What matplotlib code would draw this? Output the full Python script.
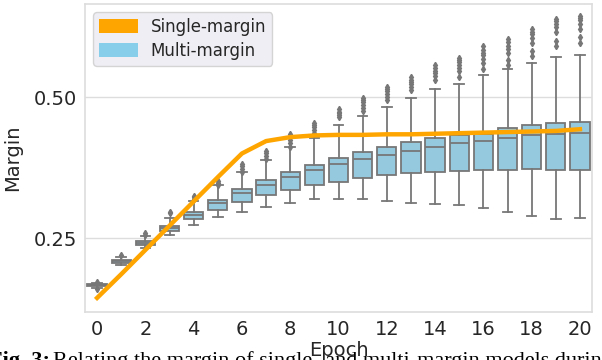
import numpy as np
import matplotlib
matplotlib.use("Agg")
import matplotlib.pyplot as plt
from matplotlib.patches import Patch

epochs = list(range(21))

# orange line: single-margin model
single_margin = [0.144, 0.186, 0.229, 0.272, 0.315, 0.358, 0.400, 0.422, 0.429, 0.432,
                 0.433, 0.433, 0.434, 0.434, 0.435, 0.436, 0.437, 0.438, 0.439, 0.440, 0.443]

# box statistics for multi-margin models
q1 = [0.165, 0.206, 0.238, 0.263, 0.284, 0.300, 0.314, 0.326, 0.336, 0.344,
      0.350, 0.356, 0.361, 0.365, 0.368, 0.369, 0.371, 0.371, 0.372, 0.371, 0.371]
med = [0.167, 0.209, 0.241, 0.268, 0.291, 0.312, 0.330, 0.345, 0.358, 0.370,
       0.381, 0.390, 0.398, 0.405, 0.412, 0.418, 0.423, 0.427, 0.432, 0.435, 0.436]
q3 = [0.168, 0.212, 0.245, 0.272, 0.297, 0.318, 0.337, 0.353, 0.368, 0.380,
      0.392, 0.402, 0.411, 0.420, 0.427, 0.433, 0.435, 0.445, 0.450, 0.454, 0.455]
whis_lo = [0.161, 0.202, 0.232, 0.255, 0.273, 0.288, 0.297, 0.306, 0.313, 0.320,
           0.319, 0.319, 0.315, 0.312, 0.310, 0.309, 0.303, 0.297, 0.290, 0.284, 0.285]
whis_hi = [0.171, 0.216, 0.253, 0.286, 0.316, 0.344, 0.367, 0.389, 0.411, 0.427,
           0.450, 0.466, 0.483, 0.498, 0.515, 0.524, 0.539, 0.550, 0.560, 0.571, 0.575]
fliers = [
    [0.173, 0.159],
    [0.220],
    [0.256, 0.259],
    [0.294, 0.296],
    [0.319, 0.322, 0.325],
    [0.345, 0.348, 0.352],
    [0.368, 0.372, 0.377, 0.382],
    [0.390, 0.395, 0.400, 0.405],
    [0.412, 0.418, 0.424, 0.429, 0.434],
    [0.437, 0.442, 0.447, 0.451, 0.454],
    [0.465, 0.468, 0.471, 0.474, 0.478],
    [0.475, 0.481, 0.486, 0.491, 0.495, 0.498],
    [0.494, 0.500, 0.505, 0.510, 0.514, 0.518],
    [0.512, 0.518, 0.523, 0.527, 0.531, 0.535],
    [0.531, 0.538, 0.543, 0.547, 0.551, 0.556],
    [0.536, 0.546, 0.552, 0.557, 0.562, 0.566, 0.569],
    [0.550, 0.560, 0.568, 0.574, 0.579, 0.584, 0.590],
    [0.556, 0.566, 0.578, 0.585, 0.591, 0.597, 0.603],
    [0.572, 0.582, 0.595, 0.605, 0.611, 0.616, 0.621],
    [0.590, 0.600, 0.615, 0.625, 0.630, 0.635, 0.638],
    [0.596, 0.606, 0.620, 0.630, 0.636, 0.640, 0.643],
]

xticks = list(range(0, 21, 2))
yticks = [0.25, 0.50]

ORANGE = "#FFA500"
SKYBLUE = "#87CEEB"
BOXFILL = "#94C9DE"
EDGE = "#777777"
GRID = "#dddddd"
TXT = "#262626"

plt.rcParams['font.family'] = ['DejaVu Sans']

fig = plt.figure(figsize=(6.02, 3.6), dpi=100)
ax = fig.add_axes([0.1412, 0.1333, 0.8422, 0.8556])

stats = []
for i in range(len(epochs)):
    stats.append(dict(med=med[i], q1=q1[i], q3=q3[i], whislo=whis_lo[i],
                      whishi=whis_hi[i], fliers=fliers[i]))

ax.bxp(stats, positions=epochs, widths=0.8, patch_artist=True, manage_ticks=False,
       boxprops=dict(facecolor=BOXFILL, edgecolor=EDGE, linewidth=1.3),
       medianprops=dict(color=EDGE, linewidth=1.3),
       whiskerprops=dict(color=EDGE, linewidth=1.3),
       capprops=dict(color=EDGE, linewidth=1.3),
       flierprops=dict(marker='d', markersize=3.2, markerfacecolor=EDGE,
                       markeredgecolor=EDGE, linestyle='none'))

ax.plot(epochs, single_margin, color=ORANGE, linewidth=3.2, zorder=5)

ax.set_xlim(-0.5, 20.5)
ax.set_ylim(0.119, 0.665)
ax.set_xticks(xticks)
ax.set_xticklabels([str(t) for t in xticks])
ax.set_yticks(yticks)
ax.set_yticklabels(["%.2f" % t for t in yticks])
ax.tick_params(length=0, labelsize=14, labelcolor=TXT, pad=6)
ax.grid(axis='y', color=GRID, linewidth=1.0)
ax.set_axisbelow(True)
for s in ax.spines.values():
    s.set_color(GRID)
    s.set_linewidth(1.2)

ax.set_xlabel("Epoch", fontsize=14, color=TXT, labelpad=1)
ax.set_ylabel("Margin", fontsize=14, color=TXT, labelpad=8)

handles = [Patch(facecolor=ORANGE, label="Single-margin"),
           Patch(facecolor=SKYBLUE, label="Multi-margin")]
leg = ax.legend(handles=handles, loc='upper left', fontsize=12, frameon=True,
                facecolor="#EAEAF2", edgecolor="#cccccc", framealpha=0.8,
                handlelength=2.3, handleheight=0.9, borderaxespad=0.5,
                labelspacing=0.35, borderpad=0.35)
for t in leg.get_texts():
    t.set_color(TXT)

# caption of the paper, only the top of it shows at the bottom edge
t1 = fig.text(-0.018, 0.024, "Fig. 3:", fontsize=16, fontweight='bold',
              family='Liberation Serif', va='top', ha='left')
fig.text(0.088, 0.024, "Relating the margin of single- and multi-margin models during training",
         fontsize=16, family='Liberation Serif', va='top', ha='left')

fig.savefig("out.png", dpi=100)
